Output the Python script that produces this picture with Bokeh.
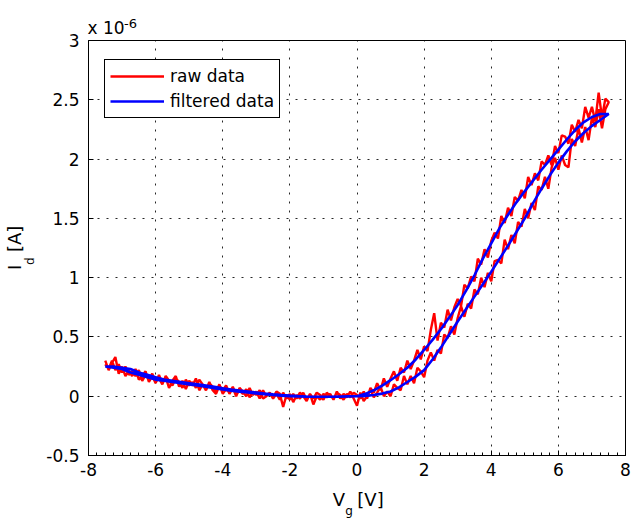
import numpy as np
from bokeh.plotting import figure
from bokeh.models import (Range1d, SingleIntervalTicker, FixedTicker, LinearAxis,
                          Legend, LegendItem)
from bokeh.embed import file_html
from bokeh.resources import INLINE

# ---------------- data (I_d in units of 1e-6 A) ----------------
# raw data, forward sweep V_g = -7.5 .. 7.5 V (step 0.1 V)
raw_fwd = [
    0.30, 0.22, 0.28, 0.33, 0.19, 0.25, 0.17, 0.22, 0.17, 0.23,
    0.14, 0.17, 0.21, 0.12, 0.17, 0.11, 0.18, 0.11, 0.16, 0.07,
    0.13, 0.17, 0.08, 0.13, 0.06, 0.13, 0.09, 0.15, 0.05, 0.10,
    0.05, 0.12, 0.05, 0.02, 0.09, 0.05, 0.09, 0.02, 0.07, 0.00,
    0.07, 0.04, 0.00, 0.07, 0.01, 0.04, -0.02, 0.05, 0.00, 0.03,
    -0.02, 0.02, -0.03, 0.03, -0.02, 0.02, -0.05, 0.01, -0.02, 0.03,
    -0.03, 0.02, -0.07, 0.00, -0.03, 0.02, -0.01, 0.02, -0.03, 0.04,
    -0.02, 0.02, -0.01, 0.04, -0.02, -0.08,
    0.03, -0.04, 0.00, 0.06, -0.01, 0.03, 0.08, 0.00, 0.04, 0.00,
    0.10, 0.07, 0.05, 0.17, 0.10, 0.17, 0.11, 0.24, 0.21, 0.16,
    0.30, 0.37, 0.30, 0.39, 0.36, 0.52, 0.49, 0.59, 0.52, 0.66,
    0.76, 0.67, 0.78, 0.74, 0.90, 0.86, 1.00, 0.92, 1.04, 0.97,
    1.14, 1.15, 1.12, 1.32, 1.24, 1.36, 1.29, 1.47, 1.43, 1.58,
    1.50, 1.63, 1.57, 1.77, 1.74, 1.85, 1.75, 1.93, 2.01, 1.91,
    2.03, 1.95, 1.93, 2.17, 2.11, 2.26, 2.14, 2.27, 2.16, 2.35,
    2.27, 2.42, 2.26, 2.42, 2.48,
]
# raw data, backward sweep V_g = 7.4 .. -7.5 V (step 0.1 V)
raw_bwd = [
    2.51, 2.35, 2.56, 2.32, 2.44, 2.35, 2.44, 2.26, 2.33, 2.23,
    2.29, 2.13, 2.19, 2.20, 2.05, 2.11, 1.95, 2.03, 1.95, 1.98,
    1.82, 1.88, 1.78, 1.85, 1.67, 1.74, 1.65, 1.68, 1.52, 1.59,
    1.46, 1.52, 1.33, 1.38, 1.31, 1.17, 1.24, 1.11, 1.16, 0.97,
    1.01, 0.91, 0.94, 0.76, 0.82, 0.75, 0.64, 0.73, 0.58, 0.62,
    0.47, 0.70, 0.56, 0.38, 0.42, 0.31, 0.39, 0.30, 0.23, 0.30,
    0.20, 0.24, 0.13, 0.21, 0.15, 0.08, 0.15, 0.05, 0.11, 0.03,
    0.07, -0.02, 0.04, -0.02, 0.01,
    0.03, -0.01, 0.02, -0.03, 0.01, 0.03, -0.02, 0.00, 0.03, -0.03,
    0.01, 0.03, -0.02, 0.02, -0.04, 0.00, 0.03, -0.02, 0.02, -0.03,
    0.01, -0.09, 0.02, 0.04, -0.01, 0.03, 0.00, -0.02, 0.05, 0.01,
    0.04, -0.01, 0.06, 0.02, 0.05, 0.01, 0.08, 0.03, 0.06, 0.02,
    0.10, 0.04, 0.08, 0.11, 0.05, 0.10, 0.14, 0.07, 0.12, 0.09,
    0.14, 0.07, 0.12, 0.15, 0.09, 0.13, 0.17, 0.10, 0.15, 0.12,
    0.19, 0.14, 0.18, 0.13, 0.22, 0.17, 0.21, 0.18, 0.25, 0.20,
    0.27, 0.22, 0.30, 0.23, 0.27,
]
# filtered data (step 0.25 V)
filt_left = [0.25, 0.24, 0.23, 0.20, 0.18, 0.16, 0.14, 0.13, 0.12, 0.11,
             0.10, 0.09, 0.08, 0.067, 0.056, 0.047, 0.039, 0.031, 0.023, 0.016,
             0.010, 0.005, 0.001, -0.002, -0.004, -0.005, -0.005, -0.004, -0.002, 0.0,
             0.0]                                   # V_g = -7.5 .. 0
filt_lower = [0.003, 0.01, 0.022, 0.04, 0.075, 0.12, 0.165, 0.22, 0.31, 0.41,
              0.52, 0.63, 0.735, 0.84, 0.945, 1.05, 1.16, 1.27, 1.385, 1.50,
              1.63, 1.75, 1.865, 1.97, 2.065, 2.15, 2.22, 2.28, 2.33, 2.38]  # V_g = 0.25 .. 7.5
filt_upper = [2.38, 2.355, 2.31, 2.245, 2.165, 2.08, 1.995, 1.91, 1.82, 1.73,
              1.635, 1.53, 1.42, 1.29, 1.16, 1.02, 0.89, 0.77, 0.665, 0.565,
              0.475, 0.39, 0.31, 0.24, 0.185, 0.135, 0.09, 0.05, 0.02, 0.0]   # V_g = 7.25 .. 0
filt_return = [-0.002, -0.004, -0.005, -0.005, -0.004, -0.002, 0.001, 0.005, 0.010, 0.016,
               0.023, 0.031, 0.039, 0.047, 0.056, 0.067, 0.08, 0.09, 0.10, 0.11,
               0.12, 0.13, 0.14, 0.16, 0.18, 0.20, 0.23, 0.24, 0.25, 0.25]   # V_g = -0.25 .. -7.5

x_ticks = [-8, -6, -4, -2, 0, 2, 4, 6, 8]
x_tick_labels = ["-8", "-6", "-4", "-2", "0", "2", "4", "6", "8"]
y_ticks = [-0.5, 0, 0.5, 1, 1.5, 2, 2.5, 3]
y_tick_labels = ["-0.5", "0", "0.5", "1", "1.5", "2", "2.5", "3"]
legend_labels = ["raw data", "filtered data"]

# sweep voltage grids (instrument set points)
vg_raw_fwd = np.round(np.arange(-7.5, 7.5001, 0.1), 2)
vg_raw_bwd = np.round(np.arange(7.4, -7.5001, -0.1), 2)
vg_f_fwd = np.round(np.arange(-7.5, 7.5001, 0.25), 2)
vg_f_bwd = np.round(np.arange(7.25, -7.5001, -0.25), 2)

raw_x = list(vg_raw_fwd) + list(vg_raw_bwd)
raw_y = raw_fwd + raw_bwd
filt_x = list(vg_f_fwd) + list(vg_f_bwd)
filt_y = filt_left + filt_lower + filt_upper + filt_return
assert len(raw_x) == len(raw_y), (len(raw_x), len(raw_y))
assert len(filt_x) == len(filt_y), (len(filt_x), len(filt_y))

# ---------------- figure ----------------
W, H = 634, 520
BL, BR, BT, BB = 88, 9, 40, 64
FONT = "DejaVu Sans"

p = figure(width=W, height=H, x_range=Range1d(-8, 8), y_range=Range1d(-0.5, 3),
           output_backend="svg", toolbar_location=None,
           min_border_left=BL, min_border_right=BR, min_border_top=BT, min_border_bottom=BB)
p.background_fill_color = "white"
p.border_fill_color = "white"
p.outline_line_color = "black"
p.outline_line_width = 1

xt = SingleIntervalTicker(interval=2, num_minor_ticks=8)
yt = SingleIntervalTicker(interval=0.5, num_minor_ticks=5)
p.xaxis.ticker = xt
p.yaxis.ticker = yt
p.xgrid.ticker = xt
p.ygrid.ticker = yt
p.xaxis.major_label_overrides = {t: s for t, s in zip(x_ticks, x_tick_labels)}
p.yaxis.major_label_overrides = {t: s for t, s in zip(y_ticks, y_tick_labels)}

for ax in (p.xaxis[0], p.yaxis[0]):
    ax.axis_line_color = "black"
    ax.axis_line_width = 1
    ax.major_tick_in = 5
    ax.major_tick_out = 0
    ax.major_tick_line_color = "black"
    ax.major_label_text_font = FONT
    ax.major_label_text_font_size = "17px"
    ax.major_label_text_color = "black"
    ax.axis_label = None
p.xaxis[0].minor_tick_in = 3
p.xaxis[0].minor_tick_out = 0
p.xaxis[0].minor_tick_line_color = "black"
p.yaxis[0].minor_tick_line_color = None
p.xaxis[0].major_label_standoff = 7
p.yaxis[0].major_label_standoff = 5

for g in (p.xgrid[0], p.ygrid[0]):
    g.grid_line_color = "black"
    g.grid_line_alpha = 0.85
    g.grid_line_dash = "2 7"
    g.grid_line_width = 1

r_raw = p.line(raw_x, raw_y, line_color="#ff0000", line_width=2.4)
r_filt = p.line(filt_x, filt_y, line_color="#0000ff", line_width=2.6)

legend = Legend(items=[LegendItem(label=legend_labels[0], renderers=[r_raw]),
                       LegendItem(label=legend_labels[1], renderers=[r_filt])],
                location=(16, 337))
legend.label_text_font = FONT
legend.label_text_font_size = "17px"
legend.label_text_color = "black"
legend.border_line_color = "black"
legend.border_line_width = 1
legend.border_line_alpha = 1
legend.background_fill_color = "white"
legend.background_fill_alpha = 1
legend.padding = 5
legend.spacing = 3
legend.margin = 0
legend.glyph_width = 54
legend.glyph_height = 22
legend.label_height = 22
legend.label_standoff = 6
p.add_layout(legend)

# ---------------- axis labels / exponent as text-only axes ----------------
fw = W - BL - BR
fh = H - BT - BB
ppx = fw / 16.0
ppy = fh / 3.5


def wx(px):  # window x pixel -> data x
    return round(-8 + (px - BL) / ppx, 4)


def wy(py):  # window y pixel -> data y
    return round(-0.5 + (H - BB - py) / ppy, 4)


def text_axis(side, ticks, labels, size, standoff, orientation="horizontal"):
    ax = LinearAxis(ticker=FixedTicker(ticks=ticks, minor_ticks=[]),
                    major_label_overrides=dict(zip(ticks, labels)),
                    axis_line_color=None, major_tick_line_color=None,
                    minor_tick_line_color=None, major_tick_in=0, major_tick_out=0,
                    minor_tick_in=0, minor_tick_out=0,
                    major_label_standoff=standoff, major_label_text_font=FONT,
                    major_label_text_font_size=size, major_label_text_color="black",
                    major_label_orientation=orientation)
    p.add_layout(ax, side)
    return ax


# x label  V_g [V]
text_axis("below", [wx(338.5), wx(370)], ["V", "[V]"], "18px", 10)
text_axis("below", [wx(348.5)], ["g"], "12px", -9)
# y label  I_d [A]  (rotated)
text_axis("left", [wy(261.2)], ["d"], "12px", 6, "vertical")
text_axis("left", [wy(267.4), wy(238.8)], ["I", "[A]"], "18px", -5, "vertical")
# exponent  x 10^-6
text_axis("above", [wx(105.5)], ["x 10"], "17px", 3)
text_axis("above", [wx(130)], ["-6"], "13px", -13)

open("out.html", "w").write(file_html(p, INLINE, title="I_d vs V_g"))
